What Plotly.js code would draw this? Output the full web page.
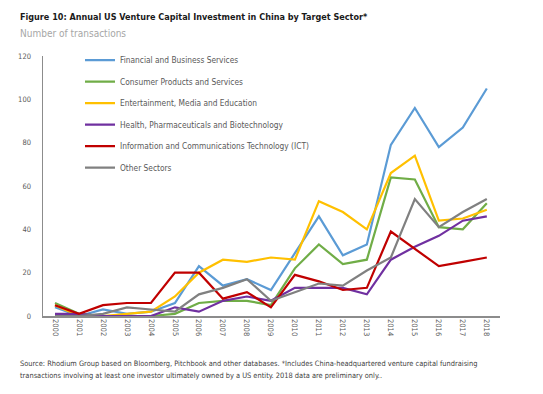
<!DOCTYPE html>
<html>
<head>
<meta charset="utf-8">
<script src="https://cdn.plot.ly/plotly-3.0.1.min.js"></script>
<style>html,body{margin:0;padding:0;background:#fff;}#chart{width:543px;height:394px;}</style>
</head>
<body>
<div id="chart"></div>
<script>
const years = ["2000","2001","2002","2003","2004","2005","2006","2007","2008","2009","2010","2011","2012","2013","2014","2015","2016","2017","2018"];
const financial = [4,0,3,1,2,6,23,14,17,12,29,46,28,33,79,96,78,87,105];
const consumer = [6,1,0,0,0,1,6,7,7,5,22,33,24,26,64,63,41,40,52];
const entertainment = [5,0,0,1,2,9,20,26,25,27,26,53,48,40,66,74,44,45,49];
const health = [1,1,0,0,0,4,2,7,9,7,13,13,13,10,26,32,37,44,46];
const ict = [5,1,5,6,6,20,20,8,11,4,19,16,12,13,39,31,23,25,27];
const other = [0,0,1,4,3,2,10,13,17,7,11,15,14,21,27,54,41,48,54];
const names = ["Financial and Business Services","Consumer Products and Services","Entertainment, Media and Education","Health, Pharmaceuticals and Biotechnology","Information and Communications Technology (ICT)","Other Sectors"];
const colors = ["#5b9bd5","#70ad47","#ffc000","#7030a0","#c00000","#808080"];
const series = [financial, consumer, entertainment, health, ict, other];

const NARROW = '"DejaVu Sans Condensed", "Liberation Sans Narrow", Arial, sans-serif';
const traces = series.map((s,i)=>({
  x: years, y: s, name: names[i], type: 'scatter', mode: 'lines',
  legendgroup: 'g' + i,
  line: {color: colors[i], width: 2.2}
}));

const PW = 457, PH = 260;
const layout = {
  width: 543, height: 394,
  margin: {l: 43, r: 43, t: 56, b: 78},
  paper_bgcolor: '#fff', plot_bgcolor: '#fff',
  showlegend: true,
  legend: {x: 37/PW, y: 1.04, xanchor: 'left', yanchor: 'top', bgcolor: 'rgba(0,0,0,0)',
    font: {family: NARROW, size: 8.3, color: '#595959'}, tracegroupgap: 2.5, itemwidth: 30},
  xaxis: {type: 'category', range: [-0.5, 18.55], showgrid: false, zeroline: false,
    showline: true, linecolor: '#8c8c8c', linewidth: 1.5, ticks: '', tickangle: 90,
    tickfont: {family: NARROW, size: 7.5, color: '#595959'}, fixedrange: true},
  yaxis: {range: [0, 120], dtick: 20, showgrid: false, zeroline: false,
    showline: true, linecolor: '#8c8c8c', linewidth: 1.5, ticks: '', ticklabelstandoff: 9,
    tickfont: {family: NARROW, size: 7.5, color: '#595959'}, fixedrange: true},
  annotations: [
    {xref: 'paper', yref: 'paper', x: -25/PW, y: (316-17)/PH, xanchor: 'left', yanchor: 'middle', showarrow: false,
     text: '<b>Figure 10: Annual US Venture Capital Investment in China by Target Sector*</b>',
     font: {family: NARROW, size: 9, color: '#1a1a1a'}},
    {xref: 'paper', yref: 'paper', x: -25/PW, y: (316-33)/PH, xanchor: 'left', yanchor: 'middle', showarrow: false,
     text: 'Number of transactions',
     font: {family: NARROW, size: 10, color: '#a6a6a6'}},
    {xref: 'paper', yref: 'paper', x: -25/PW, y: (316-363)/PH, xanchor: 'left', yanchor: 'middle', showarrow: false,
     text: 'Source: Rhodium Group based on Bloomberg, Pitchbook and other databases. *Includes China-headquartered venture capital fundraising',
     font: {family: NARROW, size: 7.4, color: '#404040'}},
    {xref: 'paper', yref: 'paper', x: -25/PW, y: (316-375)/PH, xanchor: 'left', yanchor: 'middle', showarrow: false,
     text: 'transactions involving at least one investor ultimately owned by a US entity. 2018 data are preliminary only..',
     font: {family: NARROW, size: 7.4, color: '#404040'}}
  ]
};
Plotly.newPlot('chart', traces, layout, {displayModeBar: false, staticPlot: true});
</script>
</body>
</html>
